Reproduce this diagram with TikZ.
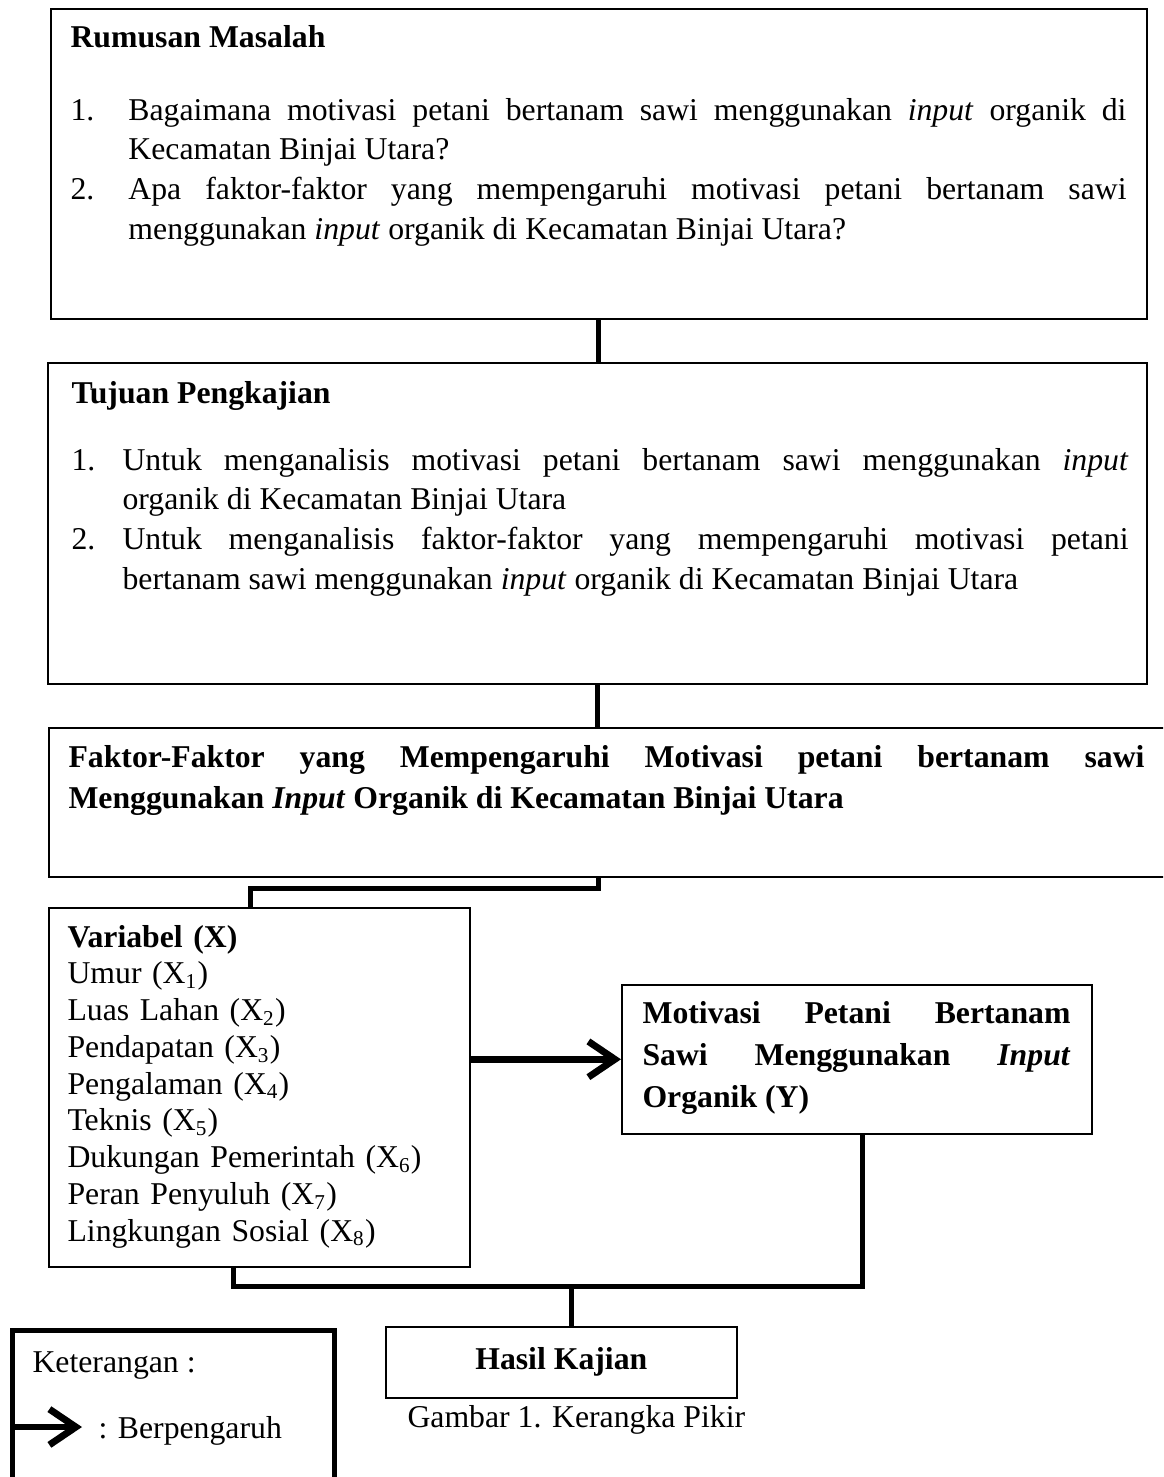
\documentclass[tikz,border=0pt]{standalone}
\usepackage{fontspec}
\setmainfont{Liberation Serif}
\usetikzlibrary{positioning, arrows.meta, calc}

\hyphenpenalty=10000
\exhyphenpenalty=10000
\newcommand{\px}{0.378pt}
\newcommand{\nomor}[2]{\hangindent=#1\hangafter=1\noindent\makebox[#1][l]{#2}}

\tikzset{
  box/.style={draw, line width=0.6pt, inner sep=0pt, anchor=north west},
  ketbox/.style={draw, line width=1.9pt, inner sep=0pt, anchor=north west},
  label/.style={inner sep=0pt, anchor=base west, font=\fontsize{12pt}{15.1pt}\selectfont},
  txt/.style={label, align=justify},
  link/.style={line width=1.9pt},
  pengaruh/.style={line width=2.6pt, -{Straight Barb[length=10pt,width=13.5pt]}}
}

\begin{document}
\begin{tikzpicture}[x=\px, y=-\px]
        \clip (0,0) rectangle (1163,1477);
        % kotak-kotak
        \node[box, minimum width=1096*\px, minimum height=310*\px] (rumusan) at (50,8) {};
        \node[box, minimum width=1099*\px, minimum height=321*\px] (tujuan) at (47,362) {};
        \node[box, minimum width=1127*\px, minimum height=149*\px] (faktor) at (48,727) {};
        \node[box, minimum width=421*\px, minimum height=359*\px] (variabel) at (48,907) {};
        \node[box, minimum width=470*\px, minimum height=149*\px] (motivasi) at (621,984) {};
        \node[box, minimum width=351*\px, minimum height=71*\px, font=\fontsize{12pt}{14pt}\selectfont\bfseries] (hasil) at (385,1326) {Hasil Kajian};
        \node[ketbox, minimum width=322*\px, minimum height=170*\px] (ket) at (10,1328) {};

        % isi rumusan masalah
        \node[label, font=\fontsize{12pt}{14pt}\selectfont\bfseries] (rumusan_judul) at (70,47) {Rumusan Masalah};
        \node[txt, text width=1056*\px] (rumusan_isi) at (70,120) {%
          \nomor{21.9pt}{1.}Bagaimana motivasi petani bertanam sawi menggunakan \textit{input} organik di\linebreak Kecamatan Binjai Utara?\par
          \nomor{21.9pt}{2.}Apa faktor-faktor yang mempengaruhi motivasi petani bertanam sawi\linebreak menggunakan \textit{input} organik di Kecamatan Binjai Utara?\par};

        % isi tujuan pengkajian
        \node[label, font=\fontsize{12pt}{14pt}\selectfont\bfseries] (tujuan_judul) at (71,403) {Tujuan Pengkajian};
        \node[txt, text width=1057*\px] (tujuan_isi) at (71,470) {%
          \nomor{19.3pt}{1.}Untuk menganalisis motivasi petani bertanam sawi menggunakan \textit{input}\linebreak organik di Kecamatan Binjai Utara\par
          \nomor{19.3pt}{2.}Untuk menganalisis faktor-faktor yang mempengaruhi motivasi petani\linebreak bertanam sawi menggunakan \textit{input} organik di Kecamatan Binjai Utara\par};

        \node[txt, text width=1076*\px, font=\fontsize{12pt}{15.5pt}\selectfont\bfseries] (faktor_isi) at (68,767)
          {Faktor-Faktor yang Mempengaruhi Motivasi petani bertanam sawi\linebreak Menggunakan \textit{Input} Organik di Kecamatan Binjai Utara};

        \node[label, align=left, text width=395*\px, font=\fontsize{12pt}{13.9pt}\selectfont] (variabel_isi) at (67,947)
          {\textbf{Variabel (X)}\\ Umur (X\textsubscript{1})\\ Luas Lahan (X\textsubscript{2})\\ Pendapatan (X\textsubscript{3})\\
           Pengalaman (X\textsubscript{4})\\ Teknis (X\textsubscript{5})\\ Dukungan Pemerintah (X\textsubscript{6})\\
           Peran Penyuluh (X\textsubscript{7})\\ Lingkungan Sosial (X\textsubscript{8})};

        \node[txt, text width=428*\px, font=\fontsize{12pt}{15.9pt}\selectfont\bfseries] (motivasi_isi) at (642,1023)
          {Motivasi Petani Bertanam\linebreak Sawi Menggunakan \textit{Input}\linebreak Organik (Y)};

        \node[label] (judul_gambar) at (407,1427) {Gambar 1. Kerangka Pikir};
        \node[label] (ket_judul) at (32,1372) {Keterangan :};
        \node[label] (ket_isi) at (98,1438) {: Berpengaruh};

        % garis penghubung
        \draw[link] (rumusan.south) -- (rumusan.south |- tujuan.north);
        \draw[link] (tujuan.south) -- (tujuan.south |- faktor.north);
        \draw[link] (rumusan.south |- faktor.south) -- ++(0,11) -| ([xshift=-9*\px]variabel.north);
        \coordinate (simpul) at ($(hasil.north)+(10,-40)$);
        \draw[link] ([xshift=-26*\px]variabel.south) |- (simpul) -| ([xshift=6*\px]motivasi.south);
        \draw[link] (simpul) -- (simpul |- hasil.north);
        \draw[pengaruh] (motivasi.west -| variabel.east) -- (motivasi.west);
        \coordinate (ket_panah) at ($(ket.north west)+(4,99)$);
        \draw[pengaruh] (ket_panah) -- ++(68,0);
\end{tikzpicture}
\end{document}
